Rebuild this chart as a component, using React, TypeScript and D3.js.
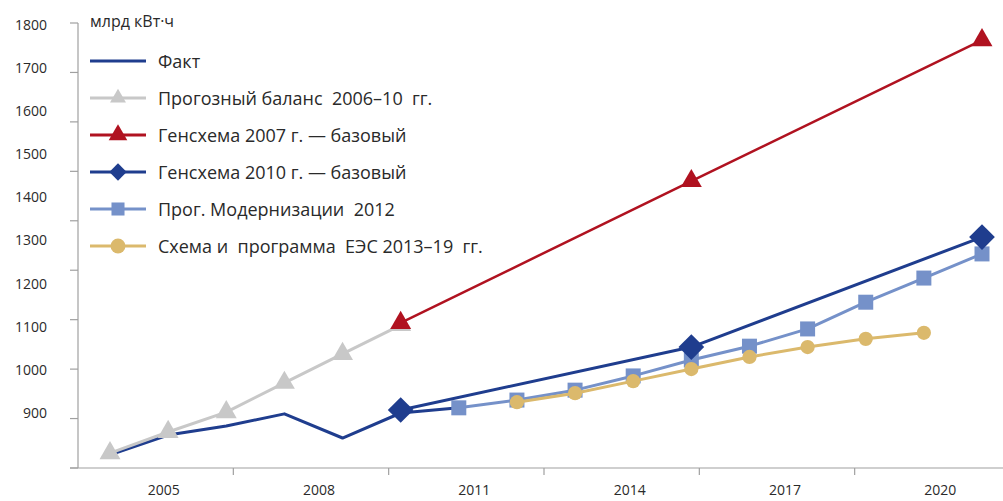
import React, { useEffect, useRef } from 'react';
import * as d3 from 'd3';

const factYears = [2005, 2006, 2007, 2008, 2009, 2010, 2011];
const factValues = [803, 849, 870, 898, 842, 900, 912];

const forecastYears = [2005, 2006, 2007, 2008, 2009, 2010];
const forecastValues = [807, 856, 902, 970, 1037, 1104];

const gen2007Years = [2010, 2015, 2020];
const gen2007Values = [1109, 1438, 1765];

const gen2010Years = [2010, 2015, 2020];
const gen2010Values = [907, 1053, 1308];

const modernYears = [2011, 2012, 2013, 2014, 2015, 2016, 2017, 2018, 2019, 2020];
const modernValues = [912, 930, 953, 986, 1023, 1055, 1095, 1157, 1213, 1269];

const schemeYears = [2012, 2013, 2014, 2015, 2016, 2017, 2018, 2019];
const schemeValues = [925, 946, 974, 1002, 1030, 1053, 1072, 1086];

const xLabels = ['2005', '2008', '2011', '2014', '2017', '2020'];
const yLabels = [900, 1000, 1100, 1200, 1300, 1400, 1500, 1600, 1700, 1800];
const yTickValues = [800, 900, 1000, 1100, 1200, 1300, 1400, 1500, 1600, 1700];

const legendNames = [
    'Факт',
    'Прогозный баланс  2006–10  гг.',
    'Генсхема 2007 г. — базовый',
    'Генсхема 2010 г. — базовый',
    'Прог. Модернизации  2012',
    'Схема и  программа  ЕЭС 2013–19  гг.',
];

interface Series {
    years: number[];
    values: number[];
    color: string;
    width: number;
    symbol: d3.SymbolType | null;
    size: number;
    legendSize: number;
    rotate: number;
}

const W = 1003;
const H = 501;
const FONT = '"Open Sans", "Noto Sans", sans-serif';

const App: React.FC = () => {
    const svgRef = useRef<SVGSVGElement | null>(null);

    useEffect(() => {
        const svg = d3.select(svgRef.current);
        svg.selectAll('*').remove();

        const axisX = 78;
        const axisY = 468;

        const x = d3.scaleLinear().domain([2005, 2020]).range([110, 982]);
        const y = d3.scaleLinear().domain([900, 1800]).range([413, 25]);
        const yTick = d3.scaleLinear().domain([800, 1700]).range([axisY, 23]);
        const xBand = d3.scaleBand().domain(xLabels).range([axisX, 1010]);

        const axisColor = '#a0a0a0';
        const textColor = '#2a2a2a';

        // axes
        svg.append('line')
            .attr('x1', axisX).attr('x2', axisX)
            .attr('y1', yTick(1700)).attr('y2', axisY)
            .attr('stroke', axisColor).attr('stroke-width', 1.2);
        svg.append('line')
            .attr('x1', 70).attr('x2', W)
            .attr('y1', axisY).attr('y2', axisY)
            .attr('stroke', axisColor).attr('stroke-width', 1.2);

        svg.append('g')
            .selectAll('line')
            .data(yTickValues)
            .join('line')
            .attr('x1', 70).attr('x2', axisX)
            .attr('y1', (d) => yTick(d)).attr('y2', (d) => yTick(d))
            .attr('stroke', axisColor).attr('stroke-width', 1.2);

        svg.append('g')
            .selectAll('text')
            .data(yLabels)
            .join('text')
            .attr('x', 47)
            .attr('y', (d) => y(d))
            .attr('dy', '0.35em')
            .attr('text-anchor', 'end')
            .attr('font-family', FONT)
            .attr('font-size', 14)
            .attr('fill', textColor)
            .text((d) => d);

        svg.append('g')
            .selectAll('line')
            .data(xLabels.slice(1))
            .join('line')
            .attr('x1', (d) => xBand(d)!).attr('x2', (d) => xBand(d)!)
            .attr('y1', axisY).attr('y2', axisY + 7)
            .attr('stroke', axisColor).attr('stroke-width', 1.2);

        svg.append('g')
            .selectAll('text')
            .data(xLabels)
            .join('text')
            .attr('x', (d) => xBand(d)! + xBand.bandwidth() / 2 + 8)
            .attr('y', 495)
            .attr('text-anchor', 'middle')
            .attr('font-family', FONT)
            .attr('font-size', 14)
            .attr('fill', textColor)
            .text((d) => d);

        svg.append('text')
            .attr('x', 90).attr('y', 27)
            .attr('font-family', FONT)
            .attr('font-size', 16)
            .attr('fill', textColor)
            .text('млрд кВт·ч');

        const fact: Series = { years: factYears, values: factValues, color: '#1f3d8e', width: 3, symbol: null, size: 0, legendSize: 0, rotate: 0 };
        const forecast: Series = { years: forecastYears, values: forecastValues, color: '#c8c8c8', width: 3, symbol: d3.symbolTriangle, size: 190, legendSize: 110, rotate: 0 };
        const gen2007: Series = { years: gen2007Years, values: gen2007Values, color: '#b01220', width: 2.5, symbol: d3.symbolTriangle, size: 190, legendSize: 150, rotate: 0 };
        const gen2010: Series = { years: gen2010Years, values: gen2010Values, color: '#1f3d8e', width: 3, symbol: d3.symbolSquare, size: 330, legendSize: 150, rotate: 45 };
        const modern: Series = { years: modernYears, values: modernValues, color: '#7591c9', width: 3, symbol: d3.symbolSquare, size: 225, legendSize: 170, rotate: 0 };
        const scheme: Series = { years: schemeYears, values: schemeValues, color: '#dbb96c', width: 3, symbol: d3.symbolCircle, size: 160, legendSize: 175, rotate: 0 };

        const legendOrder = [fact, forecast, gen2007, gen2010, modern, scheme];
        const drawOrder = [fact, modern, scheme, forecast, gen2007, gen2010];

        const line = d3.line<[number, number]>()
            .x((d) => x(d[0]))
            .y((d) => y(d[1]));

        drawOrder.forEach((s) => {
            const pts = s.years.map((yr, i) => [yr, s.values[i]] as [number, number]);
            svg.append('path')
                .datum(pts)
                .attr('d', line)
                .attr('fill', 'none')
                .attr('stroke', s.color)
                .attr('stroke-width', s.width)
                .attr('stroke-linejoin', 'round');
            if (s.symbol) {
                const sym = d3.symbol().type(s.symbol).size(s.size);
                svg.append('g')
                    .selectAll('path')
                    .data(pts)
                    .join('path')
                    .attr('d', sym)
                    .attr('transform', (d) => `translate(${x(d[0])},${y(d[1])}) rotate(${s.rotate})`)
                    .attr('fill', s.color);
            }
        });

        // legend
        const legendY = d3.scalePoint<string>().domain(legendNames).range([61, 246]);
        legendOrder.forEach((s, i) => {
            const ly = legendY(legendNames[i])!;
            svg.append('line')
                .attr('x1', 90).attr('x2', 146)
                .attr('y1', ly).attr('y2', ly)
                .attr('stroke', s.color)
                .attr('stroke-width', 3);
            if (s.symbol) {
                svg.append('path')
                    .attr('d', d3.symbol().type(s.symbol).size(s.legendSize)())
                    .attr('transform', `translate(118,${ly}) rotate(${s.rotate})`)
                    .attr('fill', s.color);
            }
            svg.append('text')
                .attr('x', 158).attr('y', ly)
                .attr('dy', '0.38em')
                .attr('font-family', FONT)
                .attr('font-size', 18)
                .attr('fill', textColor)
                .style('white-space', 'pre')
                .text(legendNames[i]);
        });
    }, []);

    return (
        <svg
            ref={svgRef}
            width={W}
            height={H}
            style={{ position: 'absolute', left: 0, top: 0, background: '#fff' }}
        />
    );
};

export default App;
